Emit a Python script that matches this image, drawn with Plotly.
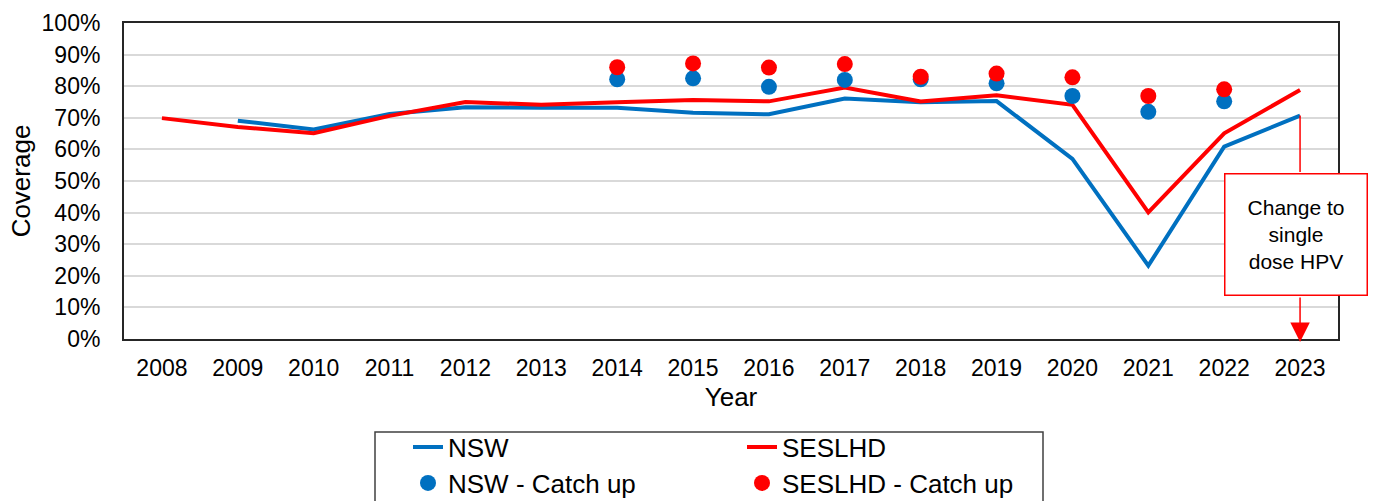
import plotly.graph_objects as go

years = [str(y) for y in range(2008, 2024)]
nsw = [None, 69.1, 66.3, 71.2, 73.3, 73.2, 73.2, 71.6, 71.1, 76.1, 74.9, 75.3, 57.0, 23.2, 60.9, 70.7]
seslhd = [69.9, 67.1, 65.1, 70.6, 75.0, 74.1, 74.9, 75.6, 75.2, 79.6, 75.2, 77.1, 74.1, 40.1, 65.1, 78.8]
nsw_catch = [None, None, None, None, None, None, 82.2, 82.5, 79.8, 82.0, 82.2, 80.9, 76.9, 71.9, 75.2, None]
seslhd_catch = [None, None, None, None, None, None, 86.0, 87.2, 85.9, 87.0, 83.0, 84.0, 82.8, 76.9, 79.0, None]
y_ticks = list(range(0, 101, 10))
y_labels = [f"{v}%" for v in y_ticks]
note_text = "Change to<br>single<br>dose HPV"

BLUE = "#0070C0"
RED = "#FF0000"
FONT = "Arial, Liberation Sans, sans-serif"

W, H = 1375, 501
ML, MR, MT, MB = 124, 37, 23, 162
PW, PH = W - ML - MR, H - MT - MB

def px_x(p):
    return (p - ML) / PW

def px_y(p):
    return (H - MB - p) / PH

fig = go.Figure()
fig.add_trace(go.Scatter(x=years, y=nsw, mode="lines", name="NSW",
                         line=dict(color=BLUE, width=4), legend="legend", showlegend=True))
fig.add_trace(go.Scatter(x=years, y=seslhd, mode="lines", name="SESLHD",
                         line=dict(color=RED, width=4), legend="legend2", showlegend=True))
fig.add_trace(go.Scatter(x=years, y=nsw_catch, mode="markers", name="NSW - Catch up",
                         marker=dict(color=BLUE, size=16), legend="legend3", showlegend=True))
fig.add_trace(go.Scatter(x=years, y=seslhd_catch, mode="markers", name="SESLHD - Catch up",
                         marker=dict(color=RED, size=16), legend="legend4", showlegend=True))

leg_common = dict(font=dict(family=FONT, size=26, color="black"), bgcolor="rgba(0,0,0,0)",
                  xanchor="left", yanchor="middle", itemwidth=30, visible=True)
fig.update_layout(
    showlegend=True,
    legend=dict(x=px_x(408), y=px_y(447), **leg_common),
    legend2=dict(x=px_x(742), y=px_y(447), **leg_common),
    legend3=dict(x=px_x(408), y=px_y(483), **leg_common),
    legend4=dict(x=px_x(742), y=px_y(483), **leg_common),
)

# legend frame
fig.add_shape(type="rect", xref="paper", yref="paper",
              x0=px_x(375), x1=px_x(1043), y0=px_y(432), y1=px_y(503),
              line=dict(color="#404040", width=1.5))

# annotation box and connectors
box_l, box_r, box_t, box_b = 1223, 1368, 172, 296
last = len(years) - 1
fig.add_shape(type="line", xref="x", yref="y", x0=last, x1=last,
              y0=nsw[-1], y1=(H - MB - box_t) / PH * 100,
              line=dict(color=RED, width=1.5))
fig.add_annotation(xref="paper", yref="paper", x=px_x((box_l + box_r) / 2), y=px_y((box_t + box_b) / 2),
                   xanchor="center", yanchor="middle",
                   text=note_text, showarrow=False, width=box_r - box_l - 4, height=box_b - box_t - 4,
                   font=dict(family=FONT, size=21, color="black"), align="center", valign="middle",
                   bordercolor=RED, borderwidth=1.5, bgcolor="white", borderpad=0)
fig.add_annotation(xref="x", yref="paper", x=last, y=px_y(342), ax=0, ay=-(342 - box_b),
                   text="", showarrow=True, arrowhead=2, arrowsize=2.6, arrowwidth=1.5,
                   arrowcolor=RED, standoff=0)

fig.update_layout(
    width=W, height=H,
    margin=dict(l=ML, r=MR, t=MT, b=MB, autoexpand=False),
    plot_bgcolor="white", paper_bgcolor="white",
    font=dict(family=FONT, size=23, color="black"),
    xaxis=dict(type="category", range=[-0.5, len(years) - 0.5],
               title=dict(text="Year", font=dict(size=26), standoff=8),
               automargin=False,
               showgrid=False, showline=True, linecolor="#262626", linewidth=2, mirror=True,
               ticks="", ticklabelstandoff=7, tickfont=dict(size=23)),
    yaxis=dict(range=[0, 100], tickvals=y_ticks, ticktext=y_labels, automargin=False,
               title=dict(text="Coverage", font=dict(size=26), standoff=3),
               showgrid=True, gridcolor="#D9D9D9", gridwidth=1.5, zeroline=False,
               showline=True, linecolor="#262626", linewidth=2, mirror=True,
               ticks="", ticklabelstandoff=17, tickfont=dict(size=23)),
)

fig.write_html("out.html", config={"displayModeBar": False},
               post_script="document.body.style.margin='0';")
